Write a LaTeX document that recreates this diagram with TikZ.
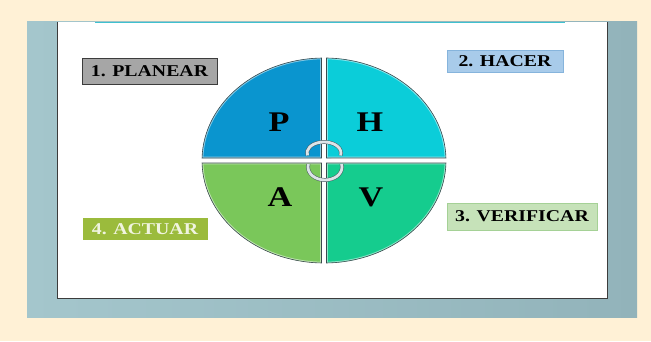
\documentclass[tikz,border=0pt]{standalone}
\usepackage{fontspec}
\newfontfamily\lblfont[FakeStretch=1.2]{Liberation Serif}
\definecolor{cream}{HTML}{FFF1D6}
\definecolor{slideL}{HTML}{A4C6CC}
\definecolor{slideR}{HTML}{92B3BA}
\definecolor{frameC}{HTML}{3C3C3C}
\definecolor{tealC}{HTML}{3FC1CF}
\definecolor{Pcol}{HTML}{0A95CF}
\definecolor{Hcol}{HTML}{0BCDD9}
\definecolor{Acol}{HTML}{7AC75A}
\definecolor{Vcol}{HTML}{15CC8E}
\definecolor{qedgeC}{HTML}{3A4A4E}
\definecolor{planF}{HTML}{A6A6A6}
\definecolor{hacF}{HTML}{A8CBEA}
\definecolor{hacD}{HTML}{86B4DC}
\definecolor{verF}{HTML}{C6E2B9}
\definecolor{verD}{HTML}{A5D196}
\definecolor{actF}{HTML}{9BBB3C}
\definecolor{actT}{HTML}{F0F4E0}
\definecolor{arcF}{HTML}{DCE4E8}
\definecolor{arcD}{HTML}{4A5A60}
\tikzset{
  qedge/.style={draw=qedgeC, line width=0.6pt},
  letter/.style={font=\lblfont\bfseries\fontsize{28.5}{31}\selectfont, text=black, inner sep=0pt},
  lbl/.style={font=\lblfont\bfseries\fontsize{16.5}{18}\selectfont, inner sep=0pt, line width=0.8pt},
  cyc/.style={draw=arcD, line width=0.5pt, double=arcF, double distance=2.8pt}
}
\newcommand\drawquad[2]{%
  \fill[#1] #2;
  \begin{scope}\clip #2; \draw[white, opacity=.5, line width=2.6pt] #2; \end{scope}
  \draw[qedge] #2;
}
\begin{document}
\begin{tikzpicture}[x=1pt,y=1pt]
\useasboundingbox (0,0) rectangle (651,341);
\fill[cream] (0,0) rectangle (651,341);
% slide background
\shade[left color=slideL, right color=slideR] (27,24) rectangle (637,319);
\fill[white] (57,43) rectangle (607,319);
\draw[frameC, line width=1pt] (57,319) -- (57,43) -- (607,43) -- (607,319);
\draw[tealC, line width=1.2pt] (95,318.4) -- (565,318.4);
% quadrants
\drawquad{Pcol}{(321.5,183) -- (202.04,183) arc[start angle=178.6, end angle=91.17, x radius=122, y radius=102.5] -- cycle}
\drawquad{Hcol}{(326.5,183) -- (326.5,283) arc[start angle=88.83, end angle=1.4, x radius=122, y radius=102.5] -- cycle}
\drawquad{Acol}{(321.5,178) -- (202.04,178) arc[start angle=181.4, end angle=268.83, x radius=122, y radius=102.5] -- cycle}
\drawquad{Vcol}{(326.5,178) -- (326.5,78.02) arc[start angle=271.17, end angle=358.6, x radius=122, y radius=102.5] -- cycle}
% letters
\node[letter] (P) at (279,219) {P};
\node[letter] (H) at (370,219) {H};
\node[letter] (A) at (280,144) {A};
\node[letter] (V) at (371,144) {V};
% cycle arcs
\coordinate (cu) at (324,188);
\coordinate (cl) at (325,174);
\draw[cyc] ([shift={(193:17 and 11)}]cu) arc[start angle=193, end angle=-13, x radius=17, y radius=11];
\draw[cyc] ([shift={(167:17 and 13)}]cl) arc[start angle=167, end angle=373, x radius=17, y radius=13];
% labels
\node[lbl, draw=frameC, fill=planF, minimum width=135pt, minimum height=26pt] (plan) at (149.5,270) {1. PLANEAR};
\node[lbl, draw=hacD, fill=hacF, minimum width=116pt, minimum height=22pt] (hac) at (505,280) {2. HACER};
\node[lbl, draw=verD, fill=verF, minimum width=150pt, minimum height=27pt] (ver) at (522,124.5) {3. VERIFICAR};
\node[lbl, fill=actF, text=actT, minimum width=125pt, minimum height=22pt] (act) at (145,112) {4. ACTUAR};
\end{tikzpicture}
\end{document}
